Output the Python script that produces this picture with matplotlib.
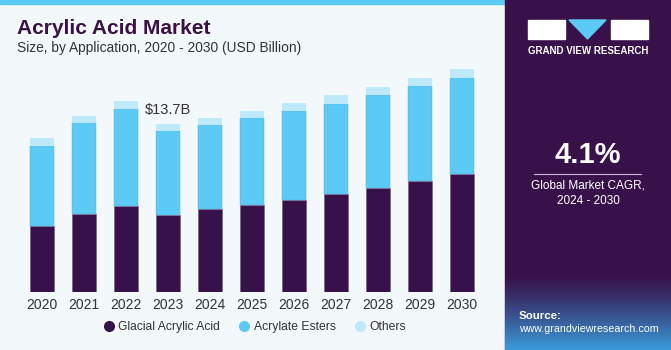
import numpy as np
import matplotlib
matplotlib.use('Agg')
import matplotlib.pyplot as plt
from matplotlib.lines import Line2D
from matplotlib.patches import Rectangle, Polygon

# data (USD Billion)
years = ['2020', '2021', '2022', '2023', '2024', '2025', '2026', '2027', '2028', '2029', '2030']
glacial = [5.41, 6.36, 7.04, 6.30, 6.74, 7.09, 7.50, 7.97, 8.51, 9.05, 9.60]
esters = [6.52, 7.45, 7.89, 6.80, 6.90, 7.09, 7.26, 7.39, 7.56, 7.75, 7.88]
others = [0.60, 0.57, 0.65, 0.60, 0.57, 0.57, 0.68, 0.71, 0.65, 0.65, 0.71]
series_names = ['Glacial Acrylic Acid', 'Acrylate Esters', 'Others']
label_year = '2023'
label_text = '$13.7B'

C_DARK = '#37114A'
C_BLUE = '#5BCBF6'
C_LIGHT = '#BDE9FA'
C_BG = '#F3F8FB'
C_TEXT = '#333333'

W, H = 671, 350
plt.rcParams['font.family'] = ['Liberation Sans', 'DejaVu Sans']


def px(x, y):
    return x / W, 1 - y / H


fig = plt.figure(figsize=(W / 100, H / 100), dpi=100)
fig.patch.set_facecolor(C_BG)

# top stripe and right panel
fig.patches.append(Rectangle(px(0, 4), 505 / W, 4 / H, transform=fig.transFigure,
                             color=C_BLUE, zorder=-2))
fig.patches.append(Rectangle((505 / W, 0), 166 / W, 1, transform=fig.transFigure,
                             color='#38114A', zorder=-2))

# gradient at bottom of right panel
gax = fig.add_axes([505 / W, 0, 166 / W, 75 / H], zorder=1)
grad = np.linspace(0, 1, 100).reshape(-1, 1)
top = np.array([0x38, 0x11, 0x4A]) / 255
bot = np.array([0x3A, 0x9C, 0xDB]) / 255
img = top + (bot - top) * grad[..., None] ** 1.2
gax.imshow(img, aspect='auto', extent=[0, 1, 0, 1], origin='upper')
gax.axis('off')

# chart
ax = fig.add_axes([21 / W, 1 - 292 / H, 462 / W, 232 / H])
ax.set_facecolor(C_BG)
x = np.arange(len(years))
g = np.array(glacial)
e = np.array(esters)
o = np.array(others)
bw = 0.55
ax.bar(x, g, bw, color=C_DARK, edgecolor='#6a5a80', linewidth=0.4)
ax.bar(x, e, bw, bottom=g, color=C_BLUE, edgecolor='#5aa8d8', linewidth=0.3)
ax.bar(x, o, bw, bottom=g + e, color=C_LIGHT, linewidth=0)
ax.set_xlim(-0.5, len(years) - 0.5)
ax.set_ylim(0, 232 * 13.7 / 168)
for s in ax.spines.values():
    s.set_visible(False)
ax.set_yticks([])
ax.set_xticks(x)
ax.set_xticklabels(years, fontsize=10, color=C_TEXT)
ax.tick_params(axis='x', length=0, pad=4)

i = years.index(label_year)
tot = g[i] + e[i] + o[i]
ax.text(x[i], tot + 0.6, label_text, ha='center', va='bottom', fontsize=10.5, color=C_TEXT)

# legend
handles = [Line2D([], [], marker='o', ls='', color=c, markersize=7)
           for c in [C_DARK, C_BLUE, C_LIGHT]]
fig.legend(handles, series_names, loc='center', bbox_to_anchor=px(253, 327), ncol=3,
           frameon=False, fontsize=8.7, handletextpad=0.05, columnspacing=1.25,
           handlelength=1.5, labelcolor=C_TEXT)

# titles
fig.text(*px(17, 29), 'Acrylic Acid Market', fontsize=15, fontweight='bold',
         color='#3A1048', va='center', ha='left')
fig.text(*px(17, 48), 'Size, by Application, 2020 - 2030 (USD Billion)', fontsize=9.9,
         color=C_TEXT, va='center', ha='left')

# logo
fig.patches.append(Rectangle(px(528, 39), 37 / W, 19 / H, transform=fig.transFigure,
                             color='white', zorder=2))
fig.patches.append(Rectangle(px(611, 39), 37 / W, 19 / H, transform=fig.transFigure,
                             color='white', zorder=2))
fig.patches.append(Polygon([px(569, 20), px(606, 20), px(587.5, 39)], closed=True,
                           transform=fig.transFigure, color=C_BLUE, zorder=2))
fig.add_artist(Line2D([px(544, 30)[0], px(565, 30)[0]], [px(544, 30)[1], px(565, 30)[1]],
                      transform=fig.transFigure, color='#38114A', lw=0.6))
fig.add_artist(Line2D([px(630, 32)[0], px(648, 36)[0]], [px(630, 32)[1], px(648, 36)[1]],
                      transform=fig.transFigure, color='#38114A', lw=0.6))
fig.text(*px(588, 51), 'GRAND VIEW RESEARCH', fontsize=7, fontweight='bold',
         color='white', ha='center', va='center')

# CAGR box
fig.text(*px(588, 155), '4.1%', fontsize=21, fontweight='bold', color='white',
         ha='center', va='center')
fig.add_artist(Line2D([534 / W, 641 / W], [1 - 173.5 / H] * 2, transform=fig.transFigure,
                      color='#c8bcd4', lw=0.8))
fig.text(*px(588, 185), 'Global Market CAGR,', fontsize=8.5, color='white',
         ha='center', va='center')
fig.text(*px(588, 201), '2024 - 2030', fontsize=8.5, color='white',
         ha='center', va='center')

# source
fig.text(*px(519, 316), 'Source:', fontsize=8.2, fontweight='bold', color='white',
         ha='left', va='center', zorder=3)
fig.text(*px(519, 329), 'www.grandviewresearch.com', fontsize=7.7, color='white',
         ha='left', va='center', zorder=3)

fig.savefig('out.png', dpi=100, facecolor=fig.get_facecolor())
